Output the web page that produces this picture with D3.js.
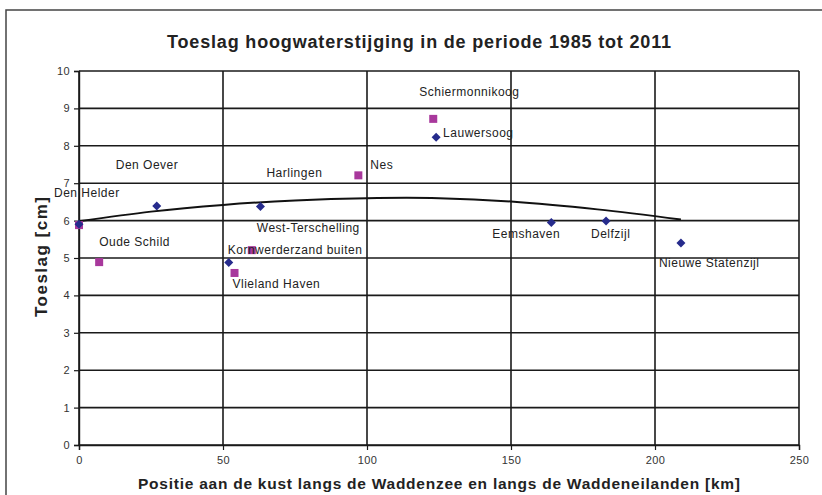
<!DOCTYPE html>
<html>
<head>
<meta charset="utf-8">
<script src="https://cdn.jsdelivr.net/npm/d3@7"></script>
<style>
  body { margin: 0; background: #fff; }
  svg { display: block; font-family: "Liberation Sans", Arial, sans-serif; }
</style>
</head>
<body>
<div id="chart"></div>
<script>
// mainland stations (blue diamonds)
const mainNames = ['Den Helder', 'Den Oever', 'Kornwerderzand buiten', 'Harlingen', 'Lauwersoog', 'Eemshaven', 'Delfzijl', 'Nieuwe Statenzijl'];
const mainKm = [0, 27, 52, 63, 124, 164, 183, 209];
const mainToeslag = [5.9, 6.39, 4.88, 6.38, 8.23, 5.95, 5.99, 5.4];

// island stations (magenta squares)
const islandNames = ['Den Helder', 'Oude Schild', 'Vlieland Haven', 'West-Terschelling', 'Nes', 'Schiermonnikoog'];
const islandKm = [0, 7, 54, 60, 97, 123];
const islandToeslag = [5.88, 4.89, 4.6, 5.21, 7.21, 8.72];

// trend line
const trendKm = [0, 25, 50, 75, 100, 125, 150, 180, 209];
const trendToeslag = [5.98, 6.24, 6.42, 6.54, 6.6, 6.6, 6.51, 6.3, 6.03];

const xTicks = [0, 50, 100, 150, 200, 250];
const yTicks = [0, 1, 2, 3, 4, 5, 6, 7, 8, 9, 10];

const title = 'Toeslag hoogwaterstijging in de periode 1985 tot 2011';
const xTitle = 'Positie aan de kust langs de Waddenzee en langs de Waddeneilanden [km]';
const yTitle = 'Toeslag [cm]';

// label placement relative to the marker (px)
const labelOffsets = {
  'Den Helder': [-25, -27],
  'Den Oever': [-41, -37],
  'Kornwerderzand buiten': [-1, -8],
  'Harlingen': [6, -29],
  'Lauwersoog': [7, 0],
  'Eemshaven': [-59, 16],
  'Delfzijl': [-15, 17],
  'Nieuwe Statenzijl': [-22, 24],
  'Oude Schild': [0, -16],
  'Vlieland Haven': [-2, 15],
  'West-Terschelling': [5, -18],
  'Nes': [12, -6],
  'Schiermonnikoog': [-14, -23]
};

const W = 822, H = 495;
const x = d3.scaleLinear().domain([0, 250]).range([79, 799]);
const y = d3.scaleLinear().domain([0, 10]).range([445, 71]);

const svg = d3.select('#chart').append('svg')
  .attr('width', W)
  .attr('height', H);

svg.append('rect').attr('width', W).attr('height', H).attr('fill', '#fff');

// outer frame
svg.append('rect')
  .attr('x', 6).attr('y', 10)
  .attr('width', 900).attr('height', 600)
  .attr('fill', 'none')
  .attr('stroke', '#444')
  .attr('stroke-width', 1.5);

// grid
svg.append('g')
  .selectAll('line')
  .data(yTicks)
  .join('line')
  .attr('x1', x(0)).attr('x2', x(250))
  .attr('y1', d => y(d)).attr('y2', d => y(d))
  .attr('stroke', '#1a1a1a')
  .attr('stroke-width', 1.6);

svg.append('g')
  .selectAll('line')
  .data(xTicks)
  .join('line')
  .attr('x1', d => x(d)).attr('x2', d => x(d))
  .attr('y1', y(0)).attr('y2', y(10))
  .attr('stroke', '#1a1a1a')
  .attr('stroke-width', 1.6);

// axes
const yAxis = svg.append('g')
  .attr('transform', `translate(${x(0)},0)`)
  .call(d3.axisLeft(y).tickValues(yTicks).tickSize(5).tickPadding(4));
const xAxis = svg.append('g')
  .attr('transform', `translate(0,${y(0)})`)
  .call(d3.axisBottom(x).tickValues(xTicks).tickSize(5).tickPadding(6));

[yAxis, xAxis].forEach(a => {
  a.select('.domain').attr('stroke', '#1a1a1a').attr('stroke-width', 1.4);
  a.selectAll('.tick line').attr('stroke', '#1a1a1a').attr('stroke-width', 1.2);
  a.selectAll('.tick text')
    .attr('fill', '#333')
    .style('font-size', '11px')
    .style('letter-spacing', '0.4px')
    .style('font-family', '"Liberation Sans", Arial, sans-serif');
});

// trend line
const trend = trendKm.map((k, i) => ({ k, v: trendToeslag[i] }));
svg.append('path')
  .datum(trend)
  .attr('d', d3.line().x(d => x(d.k)).y(d => y(d.v)).curve(d3.curveCatmullRom))
  .attr('fill', 'none')
  .attr('stroke', '#111')
  .attr('stroke-width', 2);

const islands = islandNames.map((n, i) => ({ name: n, k: islandKm[i], v: islandToeslag[i] }));
const mains = mainNames.map((n, i) => ({ name: n, k: mainKm[i], v: mainToeslag[i] }));

// squares
svg.append('g')
  .selectAll('rect')
  .data(islands)
  .join('rect')
  .attr('x', d => x(d.k) - 4)
  .attr('y', d => y(d.v) - 4)
  .attr('width', 8).attr('height', 8)
  .attr('fill', '#a8389c');

// diamonds
svg.append('g')
  .selectAll('path')
  .data(mains)
  .join('path')
  .attr('transform', d => `translate(${x(d.k)},${y(d.v)})`)
  .attr('d', 'M0,-4.5L4.5,0L0,4.5L-4.5,0Z')
  .attr('fill', '#262b8c');

// data labels
const labelled = mains.concat(islands.filter(d => d.k > 0));
svg.append('g')
  .selectAll('text')
  .data(labelled)
  .join('text')
  .attr('x', d => x(d.k) + labelOffsets[d.name][0])
  .attr('y', d => y(d.v) + labelOffsets[d.name][1])
  .attr('fill', '#222')
  .style('font-size', '12px')
  .style('letter-spacing', '0.5px')
  .text(d => d.name);

// titles
svg.append('text')
  .attr('x', 419).attr('y', 48)
  .attr('text-anchor', 'middle')
  .attr('fill', '#222')
  .attr('textLength', 504)
  .attr('lengthAdjust', 'spacing')
  .style('font-size', '18px')
  .style('font-weight', 'bold')
  .text(title);

svg.append('text')
  .attr('x', 439).attr('y', 489)
  .attr('text-anchor', 'middle')
  .attr('fill', '#222')
  .attr('textLength', 602)
  .attr('lengthAdjust', 'spacing')
  .style('font-size', '15.5px')
  .style('font-weight', 'bold')
  .text(xTitle);

svg.append('text')
  .attr('transform', 'translate(47,257) rotate(-90)')
  .attr('text-anchor', 'middle')
  .attr('fill', '#222')
  .attr('textLength', 120)
  .attr('lengthAdjust', 'spacing')
  .style('font-size', '17px')
  .style('font-weight', 'bold')
  .text(yTitle);
</script>
</body>
</html>
